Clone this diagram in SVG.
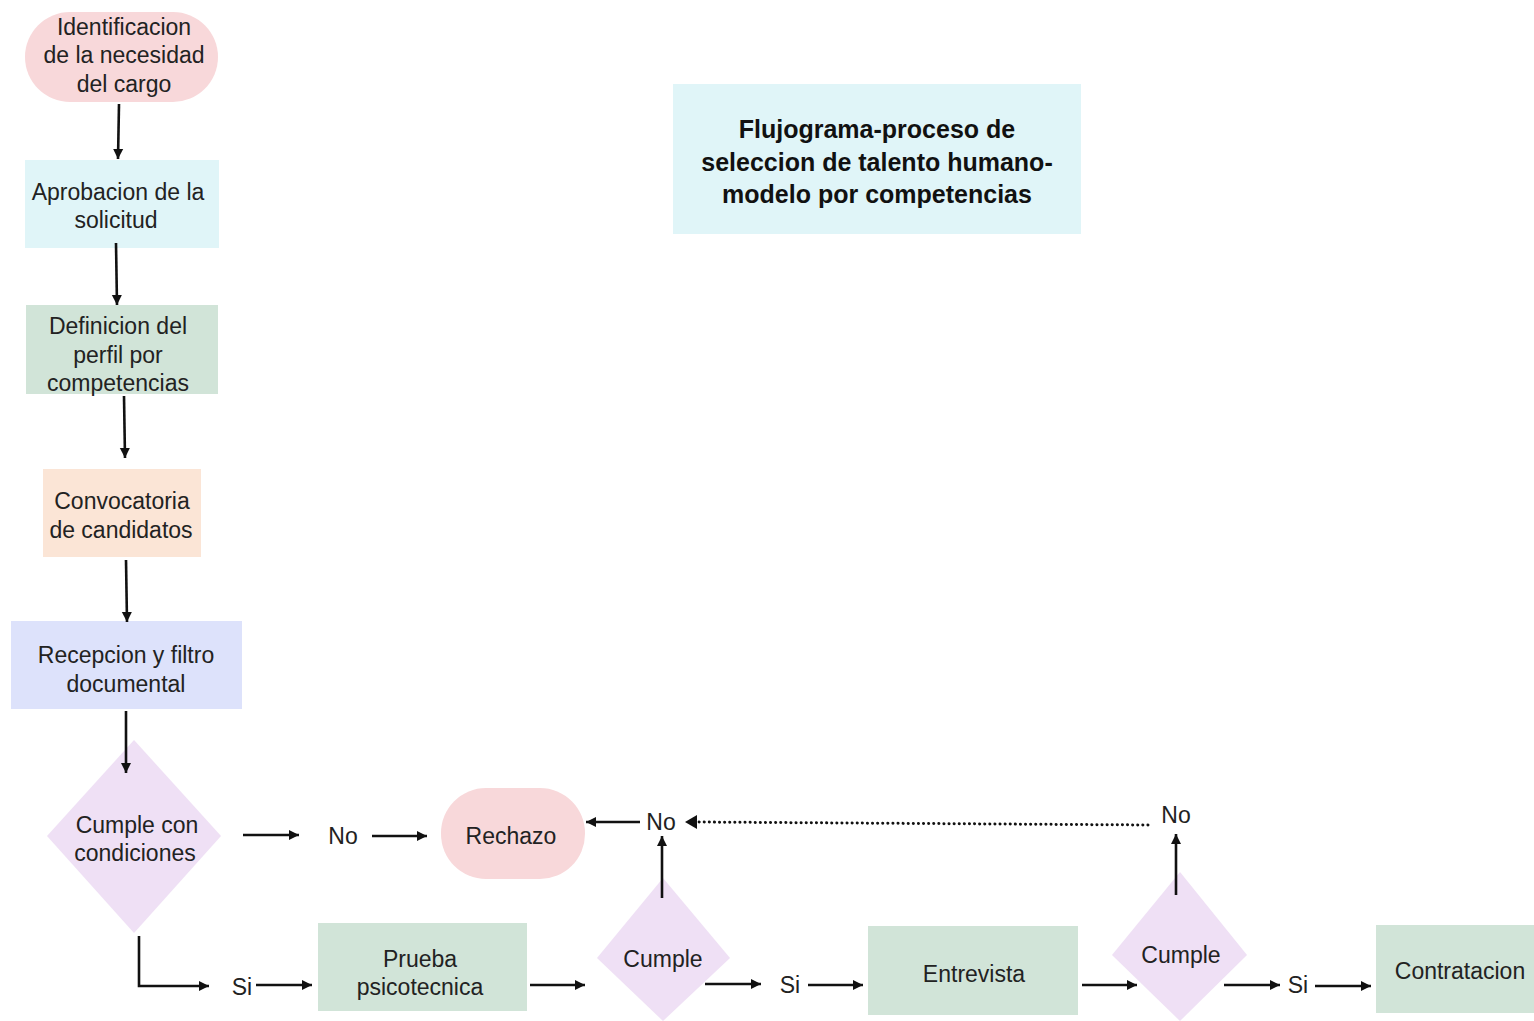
<svg xmlns="http://www.w3.org/2000/svg" width="1534" height="1021" viewBox="0 0 1534 1021">
<style>
text{font-family:"Liberation Sans","Open Sans",sans-serif;font-size:23px;fill:#222;text-anchor:middle;dominant-baseline:central}
.title{font-weight:bold;font-size:25px;fill:#111}
.c{stroke:#111;stroke-width:2.6;fill:none}
.d{stroke:#111;stroke-width:3;fill:none;stroke-dasharray:0.1 5;stroke-linecap:round}
</style>
<defs>
<marker id="a" markerUnits="userSpaceOnUse" markerWidth="14" markerHeight="14" refX="11" refY="7" orient="auto">
<path d="M1,2 L11,7 L1,12 Z" fill="#111"/>
</marker>
</defs>
<rect width="1534" height="1021" fill="#fff"/>

<g id="title">
<rect x="673" y="84" width="408" height="150" fill="#e0f5f8"/>
<text class="title" x="877" y="129">Flujograma-proceso de</text>
<text class="title" x="877" y="162">seleccion de talento humano-</text>
<text class="title" x="877" y="194">modelo por competencias</text>
</g>

<g id="n1">
<rect x="25" y="12" width="193" height="90" rx="45" fill="#f8d8da"/>
<text x="124" y="27">Identificacion</text>
<text x="124" y="55">de la necesidad</text>
<text x="124" y="84">del cargo</text>
</g>
<g id="n2">
<rect x="25" y="160" width="194" height="88" fill="#e0f5f8"/>
<text x="118" y="192">Aprobacion de la</text>
<text x="116" y="220">solicitud</text>
</g>
<g id="n3">
<rect x="26" y="305" width="192" height="89" fill="#d1e4d8"/>
<text x="118" y="326">Definicion del</text>
<text x="118" y="355">perfil por</text>
<text x="118" y="383">competencias</text>
</g>
<g id="n4">
<rect x="43" y="469" width="158" height="88" fill="#fbe5d6"/>
<text x="122" y="501">Convocatoria</text>
<text x="121" y="530">de candidatos</text>
</g>
<g id="n5">
<rect x="11" y="621" width="231" height="88" fill="#dde2fb"/>
<text x="126" y="655">Recepcion y filtro</text>
<text x="126" y="684">documental</text>
</g>
<g id="d1">
<polygon points="134,740 221,836 134,933 47,836" fill="#efe0f5"/>
<text x="137" y="825">Cumple con</text>
<text x="135" y="853">condiciones</text>
</g>
<g id="rechazo">
<rect x="441" y="788" width="144" height="91" rx="45" fill="#f8d8da"/>
<text x="511" y="836">Rechazo</text>
</g>
<g id="prueba">
<rect x="318" y="923" width="209" height="88" fill="#d1e4d8"/>
<text x="420" y="959">Prueba</text>
<text x="420" y="987">psicotecnica</text>
</g>
<g id="d2">
<polygon points="663,878 730,958 663,1021 597,958" fill="#efe0f5"/>
<text x="663" y="959">Cumple</text>
</g>
<g id="entrevista">
<rect x="868" y="926" width="210" height="89" fill="#d1e4d8"/>
<text x="974" y="974">Entrevista</text>
</g>
<g id="d3">
<polygon points="1180,872 1247,955 1180,1021 1112,955" fill="#efe0f5"/>
<text x="1181" y="955">Cumple</text>
</g>
<g id="contratacion">
<rect x="1376" y="925" width="158" height="88" fill="#d1e4d8"/>
<text x="1460" y="971">Contratacion</text>
</g>

<g id="labels">
<text x="343" y="836">No</text>
<text x="661" y="822">No</text>
<text x="1176" y="815">No</text>
<text x="242" y="987">Si</text>
<text x="790" y="985">Si</text>
<text x="1298" y="985">Si</text>
</g>

<g id="connectors">
<line class="c" x1="119" y1="104" x2="118" y2="159" marker-end="url(#a)"/>
<line class="c" x1="116" y1="243" x2="117" y2="305" marker-end="url(#a)"/>
<line class="c" x1="124" y1="396" x2="125" y2="458" marker-end="url(#a)"/>
<line class="c" x1="126" y1="560" x2="127" y2="622" marker-end="url(#a)"/>
<line class="c" x1="126" y1="711" x2="126" y2="773" marker-end="url(#a)"/>
<line class="c" x1="243" y1="835" x2="299" y2="835" marker-end="url(#a)"/>
<line class="c" x1="372" y1="836" x2="427" y2="836" marker-end="url(#a)"/>
<line class="c" x1="640" y1="822" x2="586" y2="822" marker-end="url(#a)"/>
<line class="d" x1="1148" y1="825" x2="696" y2="822"/>
<path d="M697,815 L685,822 L697,829 Z" fill="#111"/>
<line class="c" x1="662" y1="898" x2="662" y2="836" marker-end="url(#a)"/>
<line class="c" x1="1176" y1="895" x2="1176" y2="834" marker-end="url(#a)"/>
<polyline class="c" points="139,936 139,986 209,986" marker-end="url(#a)"/>
<line class="c" x1="256" y1="985" x2="312" y2="985" marker-end="url(#a)"/>
<line class="c" x1="530" y1="985" x2="585" y2="985" marker-end="url(#a)"/>
<line class="c" x1="705" y1="984" x2="761" y2="984" marker-end="url(#a)"/>
<line class="c" x1="808" y1="985" x2="863" y2="985" marker-end="url(#a)"/>
<line class="c" x1="1082" y1="985" x2="1137" y2="985" marker-end="url(#a)"/>
<line class="c" x1="1224" y1="985" x2="1280" y2="985" marker-end="url(#a)"/>
<line class="c" x1="1315" y1="986" x2="1371" y2="986" marker-end="url(#a)"/>
</g>
</svg>
